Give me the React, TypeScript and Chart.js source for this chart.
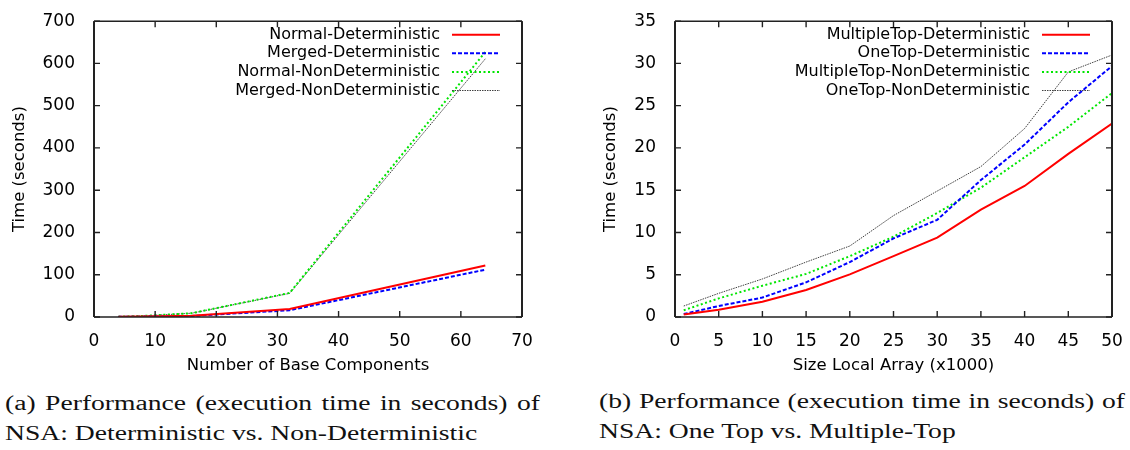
import React, { useEffect, useRef } from 'react';
import { Chart, registerables } from 'chart.js';

Chart.register(...registerables);

// ---- Data: chart (a) ----
const baseComponents = [4, 8, 16, 32, 64];
const normalDeterministic = [0.3, 1, 3, 19, 122];
const mergedDeterministic = [0.3, 0.8, 2.5, 16, 112];
const normalNonDeterministic = [0.8, 2.5, 9, 57, 627];
const mergedNonDeterministic = [0.8, 2.4, 9, 56, 611];

// ---- Data: chart (b) ----
const localArraySizes = [1, 5, 10, 15, 20, 25, 30, 35, 40, 45, 50];
const multipleTopDeterministic = [0.3, 0.85, 1.8, 3.2, 5.05, 7.2, 9.4, 12.7, 15.5, 19.3, 22.9];
const oneTopDeterministic = [0.35, 1.3, 2.3, 4.1, 6.5, 9.3, 11.5, 16.2, 20.4, 25.4, 29.7];
const multipleTopNonDeterministic = [0.8, 2.2, 3.7, 5.1, 7.2, 9.5, 12.3, 15.3, 18.9, 22.5, 26.5];
const oneTopNonDeterministic = [1.3, 2.8, 4.5, 6.5, 8.4, 12.0, 14.9, 17.8, 22.3, 29.0, 31.0];

const labelsA = ['Normal-Deterministic', 'Merged-Deterministic', 'Normal-NonDeterministic', 'Merged-NonDeterministic'];
const labelsB = ['MultipleTop-Deterministic', 'OneTop-Deterministic', 'MultipleTop-NonDeterministic', 'OneTop-NonDeterministic'];

const captionA1 = '(a) Performance (execution time in seconds) of';
const captionA2 = 'NSA: Deterministic vs. Non-Deterministic';
const captionB1 = '(b) Performance (execution time in seconds) of';
const captionB2 = 'NSA: One Top vs. Multiple-Top';

const SANS = '"DejaVu Sans", sans-serif';
const TEXT = '#000000';

const lineStyles = [
  { borderColor: '#ff0000', borderWidth: 2, borderDash: [] as number[] },
  { borderColor: '#0000ff', borderWidth: 2, borderDash: [4, 2] },
  { borderColor: '#00e600', borderWidth: 2, borderDash: [2, 2.5] },
  { borderColor: 'rgba(0,0,0,0.75)', borderWidth: 1, borderDash: [1.5, 1] },
];

const framePlugin = {
  id: 'gnuFrame',
  afterDatasetsDraw(chart: any) {
    const { ctx, chartArea } = chart;
    const { left, right, top, bottom } = chartArea;
    const xs = chart.scales.x;
    const ys = chart.scales.y;
    const tl = 6;
    ctx.save();
    ctx.strokeStyle = '#222';
    ctx.setLineDash([]);
    ctx.lineWidth = 1.4;
    xs.ticks.forEach((t: any) => {
      const px = xs.getPixelForValue(t.value);
      ctx.beginPath();
      ctx.moveTo(px, bottom);
      ctx.lineTo(px, bottom - tl);
      ctx.moveTo(px, top);
      ctx.lineTo(px, top + tl);
      ctx.stroke();
    });
    ctx.lineWidth = 1.3;
    ys.ticks.forEach((t: any) => {
      const py = ys.getPixelForValue(t.value);
      ctx.beginPath();
      ctx.moveTo(left, py);
      ctx.lineTo(left + tl, py);
      ctx.moveTo(right, py);
      ctx.lineTo(right - tl, py);
      ctx.stroke();
    });
    ctx.lineWidth = 1.4;
    ctx.beginPath();
    ctx.moveTo(left, top);
    ctx.lineTo(right, top);
    ctx.moveTo(left, bottom);
    ctx.lineTo(right, bottom);
    ctx.stroke();
    ctx.lineWidth = 2;
    ctx.beginPath();
    ctx.moveTo(left, top);
    ctx.lineTo(left, bottom);
    ctx.moveTo(right, top);
    ctx.lineTo(right, bottom);
    ctx.stroke();
    ctx.restore();
  },
};

const keyPlugin = {
  id: 'gnuKey',
  afterDatasetsDraw(chart: any) {
    const { ctx, chartArea } = chart;
    const { right, top } = chartArea;
    ctx.save();
    ctx.font = `16px ${SANS}`;
    ctx.textAlign = 'right';
    ctx.textBaseline = 'middle';
    chart.data.datasets.forEach((ds: any, i: number) => {
      const y = top + 13.5 + i * 18.6;
      ctx.fillStyle = TEXT;
      ctx.fillText(ds.label, right - 82, y);
      ctx.strokeStyle = ds.borderColor;
      ctx.lineWidth = ds.borderWidth;
      ctx.setLineDash(ds.borderDash || []);
      ctx.beginPath();
      ctx.moveTo(right - 70, y);
      ctx.lineTo(right - 22, y);
      ctx.stroke();
    });
    ctx.restore();
  },
};

type Spec = {
  xs: number[];
  series: number[][];
  labels: string[];
  xMin: number; xMax: number; xStep: number;
  yMin: number; yMax: number; yStep: number;
  xTitle: string; yTitle: string;
  yAxisWidth: number; rightPad: number; canvasH: number; plotBottom: number; yTitlePad: number;
};

function buildConfig(s: Spec): any {
  return {
    type: 'line',
    data: {
      datasets: s.series.map((vals, i) => ({
        label: s.labels[i],
        data: vals.map((v, j) => ({ x: s.xs[j], y: v })),
        ...lineStyles[i],
        pointRadius: 0,
        tension: 0,
        fill: false,
      })),
    },
    options: {
      animation: false,
      responsive: true,
      maintainAspectRatio: false,
      layout: { padding: { left: 0, top: 13, right: s.rightPad, bottom: 0 } },
      plugins: { legend: { display: false }, tooltip: { enabled: false } },
      scales: {
        x: {
          type: 'linear',
          min: s.xMin, max: s.xMax,
          grid: { display: false },
          border: { display: false },
          ticks: { stepSize: s.xStep, color: TEXT, font: { family: SANS, size: 17 }, padding: 6, maxRotation: 0, autoSkip: false },
          title: { display: true, text: s.xTitle, color: TEXT, font: { family: SANS, size: 16.5 }, padding: { top: 0, bottom: 4 } },
          afterFit: (sc: any) => { sc.height = s.canvasH - s.plotBottom; },
        },
        y: {
          type: 'linear',
          min: s.yMin, max: s.yMax,
          grid: { display: false },
          border: { display: false },
          ticks: { stepSize: s.yStep, color: TEXT, font: { family: SANS, size: 17 }, padding: 11 },
          title: { display: true, text: s.yTitle, color: TEXT, font: { family: SANS, size: 16.5 }, padding: { top: s.yTitlePad, bottom: 0 } },
          afterFit: (sc: any) => { sc.width = s.yAxisWidth; },
        },
      },
    },
    plugins: [framePlugin, keyPlugin],
  };
}

function LineChart({ spec, style }: { spec: Spec; style: React.CSSProperties }) {
  const ref = useRef<HTMLCanvasElement | null>(null);
  useEffect(() => {
    if (!ref.current) return;
    const chart = new Chart(ref.current, buildConfig(spec));
    return () => chart.destroy();
  }, [spec]);
  return (
    <div style={{ position: 'absolute', ...style }}>
      <canvas ref={ref} />
    </div>
  );
}

const specA: Spec = {
  xs: baseComponents,
  series: [normalDeterministic, mergedDeterministic, normalNonDeterministic, mergedNonDeterministic],
  labels: labelsA,
  xMin: 0, xMax: 70, xStep: 10,
  yMin: 0, yMax: 700, yStep: 100,
  xTitle: 'Number of Base Components', yTitle: 'Time (seconds)',
  yAxisWidth: 94, rightPad: 38, canvasH: 380, plotBottom: 317, yTitlePad: 9.7,
};

const specB: Spec = {
  xs: localArraySizes,
  series: [multipleTopDeterministic, oneTopDeterministic, multipleTopNonDeterministic, oneTopNonDeterministic],
  labels: labelsB,
  xMin: 0, xMax: 50, xStep: 5,
  yMin: 0, yMax: 35, yStep: 5,
  xTitle: 'Size Local Array (x1000)', yTitle: 'Time (seconds)',
  yAxisWidth: 115, rightPad: 18, canvasH: 380, plotBottom: 317, yTitlePad: 41,
};

function JustifiedLine({ text }: { text: string }) {
  return (
    <div style={{ display: 'flex', justifyContent: 'space-between', whiteSpace: 'nowrap' }}>
      {text.split(' ').map((w, i) => <span key={i}>{w}</span>)}
    </div>
  );
}

function Caption({ line1, line2, left, width, top }: { line1: string; line2: string; left: number; width: number; top: number }) {
  const scale = 1.38;
  return (
    <div
      style={{
        position: 'absolute', left, top, width: width / scale,
        fontFamily: '"Liberation Serif", serif', fontSize: 20, lineHeight: '30px', color: '#111',
        transform: `scaleX(${scale})`, transformOrigin: 'left top',
      }}
    >
      <JustifiedLine text={line1} />
      <div style={{ whiteSpace: 'nowrap' }}>{line2}</div>
    </div>
  );
}

export default function App() {
  return (
    <div style={{ position: 'absolute', left: 0, top: 0, width: 1130, height: 450, background: '#fff', overflow: 'hidden' }}>
      <LineChart spec={specA} style={{ left: 0, top: 0, width: 560, height: 380 }} />
      <LineChart spec={specB} style={{ left: 560, top: 0, width: 570, height: 380 }} />
      <Caption line1={captionA1} line2={captionA2} left={5} width={535} top={388} />
      <Caption line1={captionB1} line2={captionB2} left={599} width={526} top={386} />
    </div>
  );
}
